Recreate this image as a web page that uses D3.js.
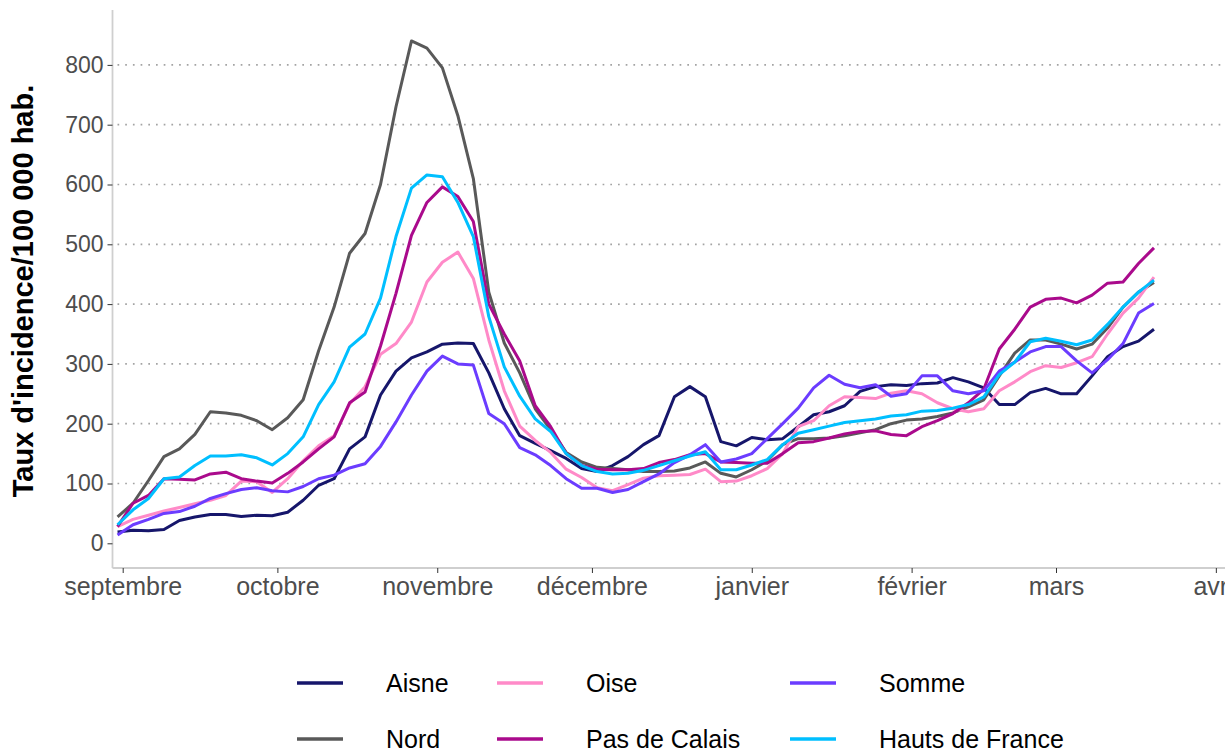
<!DOCTYPE html>
<html>
<head>
<meta charset="utf-8">
<script src="https://cdnjs.cloudflare.com/ajax/libs/d3/7.8.5/d3.min.js"></script>
<style>
body { margin: 0; background: #fff; }
svg { display: block; font-family: "Liberation Sans", Arial, sans-serif; }
</style>
</head>
<body>
<svg id="chart"></svg>
<script>
// dates of the readings (every 3 days)
var dates = [
  "2020-08-31","2020-09-03","2020-09-06","2020-09-09","2020-09-12","2020-09-15","2020-09-18","2020-09-21","2020-09-24","2020-09-27","2020-09-30",
  "2020-10-03","2020-10-06","2020-10-09","2020-10-12","2020-10-15","2020-10-18","2020-10-21","2020-10-24","2020-10-27","2020-10-30",
  "2020-11-02","2020-11-05","2020-11-08","2020-11-11","2020-11-14","2020-11-17","2020-11-20","2020-11-23","2020-11-26","2020-11-29",
  "2020-12-02","2020-12-05","2020-12-08","2020-12-11","2020-12-14","2020-12-17","2020-12-20","2020-12-23","2020-12-26","2020-12-29",
  "2021-01-01","2021-01-04","2021-01-07","2021-01-10","2021-01-13","2021-01-16","2021-01-19","2021-01-22","2021-01-25","2021-01-28","2021-01-31",
  "2021-02-03","2021-02-06","2021-02-09","2021-02-12","2021-02-15","2021-02-18","2021-02-21","2021-02-24","2021-02-27",
  "2021-03-02","2021-03-05","2021-03-08","2021-03-11","2021-03-14","2021-03-17","2021-03-20"
];

var aisne = [
  19, 22, 21, 23, 38, 44, 48, 48, 45, 47, 46,
  52, 72, 97, 108, 158, 178, 248, 288, 310, 320,
  333, 335, 334, 285, 225, 180, 167, 155, 142, 125,
  120, 130, 145, 165, 180, 245, 262, 245, 170, 163,
  177, 173, 175, 195, 215, 220, 230, 254, 262, 265, 264,
  267, 268, 277, 270, 260, 232, 232, 252, 259,
  250, 250, 280, 312, 329, 338, 358
];
var nord = [
  44, 67, 105, 145, 158, 182, 220, 218, 214, 205, 190,
  210, 240, 322, 395, 485, 518, 600, 730, 840, 828,
  795, 715, 610, 420, 335, 285, 225, 190, 152, 136,
  127, 125, 123, 120, 120, 121, 126, 136, 117, 111,
  123, 138, 165, 175, 175, 176, 180, 185, 190, 200, 206,
  208, 212, 218, 228, 240, 280, 318, 340, 340,
  333, 325, 333, 360, 395, 420, 436
];
var oise = [
  28, 40, 47, 54, 60, 66, 72, 80, 104, 103, 85,
  108, 138, 163, 180, 233, 262, 316, 334, 370, 437,
  470, 487, 443, 340, 255, 196, 172, 152, 124, 110,
  93, 88, 98, 109, 113, 114, 115, 124, 103, 104,
  113, 125, 150, 195, 205, 230, 245, 244, 242, 251, 255,
  250, 235, 225, 220, 225, 255, 270, 287, 297,
  294, 302, 312, 350, 385, 410, 445
];
var pasDeCalais = [
  28, 67, 80, 108, 107, 106, 116, 119, 108, 104, 101,
  117, 136, 158, 178, 235, 253, 330, 418, 515, 570,
  596, 580, 538, 400, 350, 305, 230, 195, 150, 130,
  124, 123, 123, 125, 135, 140, 148, 150, 136, 135,
  134, 134, 150, 168, 170, 176, 183, 187, 188, 182, 180,
  195, 205, 217, 235, 258, 325, 358, 395, 408,
  410, 402, 415, 435, 437, 468, 494
];
var somme = [
  14, 31, 40, 50, 53, 62, 75, 83, 90, 93, 88,
  86, 95, 108, 114, 126, 133, 162, 203, 248, 288,
  313, 300, 298, 217, 200, 160, 148, 130, 108, 92,
  92, 85, 90, 103, 116, 135, 148, 165, 136, 141,
  150, 175, 200, 226, 260, 281, 266, 260, 265, 246, 250,
  280, 280, 255, 250, 255, 288, 303, 320, 329,
  329, 305, 285, 307, 334, 385, 401
];
var hautsDeFrance = [
  31, 56, 75, 108, 111, 130, 146, 146, 148, 143, 131,
  150, 178, 232, 270, 328, 350, 410, 513, 594, 616,
  613, 570, 513, 379, 295, 246, 208, 187, 150, 130,
  120, 116, 117, 122, 130, 138, 146, 153, 123, 123,
  131, 140, 165, 184, 190, 196, 202, 205, 208, 213, 215,
  221, 222, 226, 232, 245, 282, 303, 337, 343,
  338, 332, 340, 366, 395, 420, 440
];

var seriesNames = ["Aisne", "Nord", "Oise", "Pas de Calais", "Somme", "Hauts de France"];
var seriesValues = [aisne, nord, oise, pasDeCalais, somme, hautsDeFrance];
var seriesColors = ["#16166b", "#595959", "#ff8ac8", "#aa0a8c", "#6b3cff", "#00bfff"];

var yTicks = [0, 100, 200, 300, 400, 500, 600, 700, 800];
var monthTicks = ["2020-09-01","2020-10-01","2020-11-01","2020-12-01","2021-01-01","2021-02-01","2021-03-01","2021-04-01"];
var monthLabels = ["septembre", "octobre", "novembre", "décembre", "janvier", "février", "mars", "avril"];
var yTitle = "Taux d'incidence/100 000 hab.";

var width = 1225;
var height = 751;
var panelLeft = 112.5, panelTop = 10, panelBottom = 568;

var parse = d3.utcParse("%Y-%m-%d");

var svg = d3.select("#chart").attr("width", width).attr("height", height);

var x = d3.scaleUtc()
    .domain([parse("2020-09-01"), parse("2021-03-01")])
    .range([122.7, 1056]);

var y = d3.scaleLinear()
    .domain([0, 800])
    .range([543.3, 64.9]);

// dotted horizontal grid
svg.append("g")
    .selectAll("line")
    .data(yTicks.filter(function (d) { return d > 0; }))
    .enter().append("line")
    .attr("x1", panelLeft + 5)
    .attr("x2", width)
    .attr("y1", function (d) { return y(d); })
    .attr("y2", function (d) { return y(d); })
    .style("stroke", "#a3a3a3")
    .style("stroke-width", 1.7)
    .style("stroke-dasharray", "1.7,6");

// axis lines
svg.append("line")
    .attr("x1", panelLeft).attr("x2", panelLeft)
    .attr("y1", panelTop).attr("y2", panelBottom)
    .style("stroke", "#cfcfcf").style("stroke-width", 1.8);
svg.append("line")
    .attr("x1", panelLeft).attr("x2", width)
    .attr("y1", panelBottom).attr("y2", panelBottom)
    .style("stroke", "#cfcfcf").style("stroke-width", 1.8);

var yAxis = svg.append("g")
    .attr("transform", "translate(" + panelLeft + ",0)")
    .call(d3.axisLeft(y).tickValues(yTicks).tickSize(5).tickPadding(4));
yAxis.select(".domain").remove();
yAxis.selectAll(".tick line").style("stroke", "#333");
yAxis.selectAll(".tick text")
    .style("font-family", "'Liberation Sans', Arial, sans-serif")
    .style("font-size", "23px")
    .style("fill", "#4d4d4d");

var xAxis = svg.append("g")
    .attr("transform", "translate(0," + panelBottom + ")")
    .call(d3.axisBottom(x)
        .tickValues(monthTicks.map(parse))
        .tickFormat(function (d, i) { return monthLabels[i]; })
        .tickSize(5).tickPadding(4));
xAxis.select(".domain").remove();
xAxis.selectAll(".tick line").style("stroke", "#333");
xAxis.selectAll(".tick text")
    .style("font-family", "'Liberation Sans', Arial, sans-serif")
    .style("font-size", "25px")
    .style("fill", "#4d4d4d");

// y title
svg.append("text")
    .attr("transform", "translate(33," + ((panelTop + panelBottom) / 2 + 2) + ") rotate(-90)")
    .attr("text-anchor", "middle")
    .style("font-size", "29px")
    .style("font-weight", "bold")
    .style("fill", "#000")
    .text(yTitle);

// lines
var line = d3.line()
    .x(function (d) { return x(d.date); })
    .y(function (d) { return y(d.value); });

var series = seriesNames.map(function (name, i) {
    return {
        name: name,
        color: seriesColors[i],
        points: dates.map(function (dt, j) {
            return { date: parse(dt), value: seriesValues[i][j] };
        })
    };
});

svg.append("g")
    .selectAll("path")
    .data(series)
    .enter().append("path")
    .attr("d", function (d) { return line(d.points); })
    .style("fill", "none")
    .style("stroke", function (d) { return d.color; })
    .style("stroke-width", 3)
    .style("stroke-linejoin", "round");

// legend: 3 columns x 2 rows, filled by column
var legendCols = [297, 497, 790];
var legendRows = [683, 739];

var legendItem = svg.append("g")
    .selectAll("g")
    .data(series)
    .enter().append("g")
    .attr("transform", function (d, i) {
        return "translate(" + legendCols[Math.floor(i / 2)] + "," + legendRows[i % 2] + ")";
    });

legendItem.append("line")
    .attr("x1", 0).attr("x2", 46)
    .attr("y1", 0).attr("y2", 0)
    .style("stroke", function (d) { return d.color; })
    .style("stroke-width", 3.5);

legendItem.append("text")
    .attr("x", 89)
    .attr("y", 0)
    .attr("dy", "0.35em")
    .style("font-size", "25px")
    .style("fill", "#000")
    .text(function (d) { return d.name; });
</script>
</body>
</html>
